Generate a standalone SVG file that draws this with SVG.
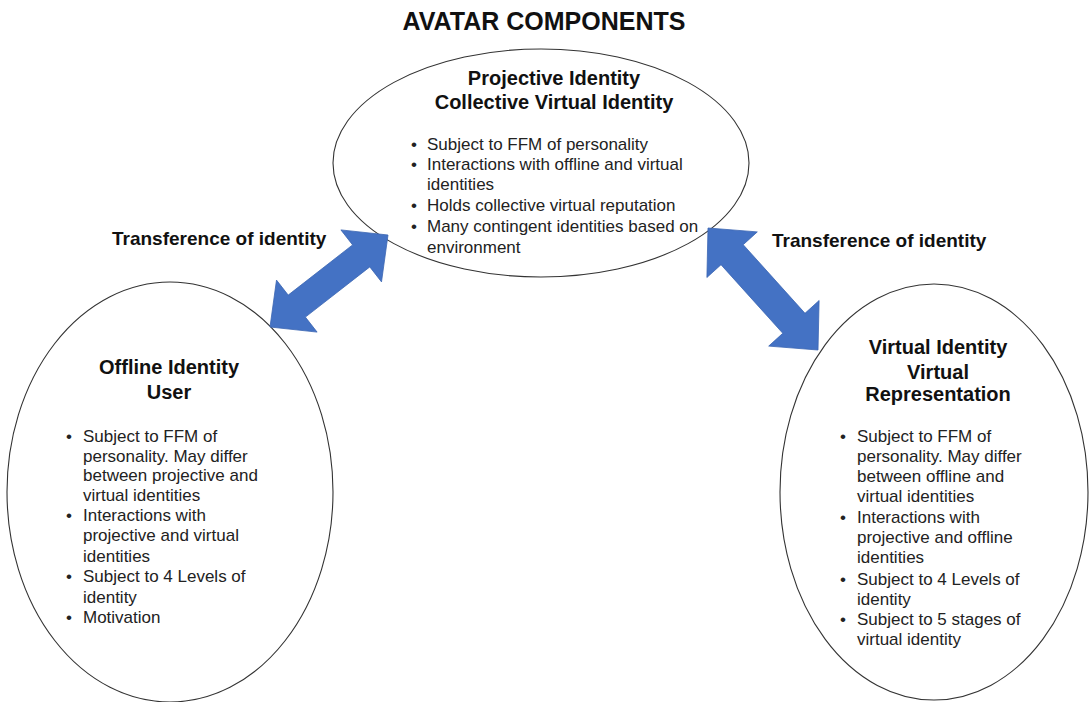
<svg xmlns="http://www.w3.org/2000/svg" width="1089" height="702" viewBox="0 0 1089 702">
  <style>
    .title { font-family: "Liberation Sans", Arial, sans-serif; font-weight: bold; font-size: 25px; fill: #111; text-anchor: middle; }
    .head { font-family: "Liberation Sans", Arial, sans-serif; font-weight: bold; font-size: 20px; fill: #111; text-anchor: middle; }
    .label { font-family: "Liberation Sans", Arial, sans-serif; font-weight: bold; font-size: 19px; fill: #111; }
    .body { font-family: "Liberation Sans", Arial, sans-serif; font-size: 17px; fill: #222; }
    .oval { fill: #fff; stroke: #333; stroke-width: 1.1; }
    .arrow { fill: #4472C4; stroke: #3b66b3; stroke-width: 0.8; }
  </style>
  <rect width="1089" height="702" fill="#fff"/>

  <text class="title" x="544" y="30">AVATAR COMPONENTS</text>

  <!-- Projective identity (top) -->
  <g id="projective">
    <ellipse class="oval" cx="541" cy="163" rx="208" ry="114"/>
    <text class="head" x="554" y="85">Projective Identity</text>
    <text class="head" x="554" y="109">Collective Virtual Identity</text>
    <g class="body">
      <text x="411" y="150">•</text><text x="427" y="150">Subject to FFM of personality</text>
      <text x="411" y="170">•</text><text x="427" y="170">Interactions with offline and virtual</text>
      <text x="427" y="190">identities</text>
      <text x="411" y="211">•</text><text x="427" y="211">Holds collective virtual reputation</text>
      <text x="411" y="232">•</text><text x="427" y="232">Many contingent identities based on</text>
      <text x="427" y="253">environment</text>
    </g>
  </g>

  <!-- Offline identity (left) -->
  <g id="offline">
    <ellipse class="oval" cx="170" cy="492" rx="163" ry="210"/>
    <text class="head" x="169" y="374">Offline Identity</text>
    <text class="head" x="169" y="399">User</text>
    <g class="body">
      <text x="66" y="442">•</text><text x="83" y="442">Subject to FFM of</text>
      <text x="83" y="462">personality. May differ</text>
      <text x="83" y="481">between projective and</text>
      <text x="83" y="501">virtual identities</text>
      <text x="66" y="521">•</text><text x="83" y="521">Interactions with</text>
      <text x="83" y="541">projective and virtual</text>
      <text x="83" y="562">identities</text>
      <text x="66" y="582">•</text><text x="83" y="582">Subject to 4 Levels of</text>
      <text x="83" y="603">identity</text>
      <text x="66" y="623">•</text><text x="83" y="623">Motivation</text>
    </g>
  </g>

  <!-- Virtual identity (right) -->
  <g id="virtual">
    <ellipse class="oval" cx="934" cy="492" rx="154" ry="208"/>
    <text class="head" x="938" y="354">Virtual Identity</text>
    <text class="head" x="938" y="379">Virtual</text>
    <text class="head" x="938" y="401">Representation</text>
    <g class="body">
      <text x="840" y="442">•</text><text x="857" y="442">Subject to FFM of</text>
      <text x="857" y="462">personality. May differ</text>
      <text x="857" y="482">between offline and</text>
      <text x="857" y="502">virtual identities</text>
      <text x="840" y="523">•</text><text x="857" y="523">Interactions with</text>
      <text x="857" y="543">projective and offline</text>
      <text x="857" y="563">identities</text>
      <text x="840" y="585">•</text><text x="857" y="585">Subject to 4 Levels of</text>
      <text x="857" y="605">identity</text>
      <text x="840" y="625">•</text><text x="857" y="625">Subject to 5 stages of</text>
      <text x="857" y="645">virtual identity</text>
    </g>
  </g>

  <!-- Double-headed transfer arrows -->
  <g id="connectors">
    <polygon class="arrow" points="388,235 381.5,281.9 369.8,266.9 305.4,317.1 317.1,332.1 270,327 276.5,280.1 288.2,295.1 352.6,244.9 340.9,229.9"/>
    <polygon class="arrow" points="708,228 757.3,231.9 743.2,244.7 805.0,313.3 819.1,300.5 818,350 768.7,346.1 782.8,333.3 721.0,264.7 706.9,277.5"/>
    <text class="label" x="112" y="245">Transference of identity</text>
    <text class="label" x="772" y="247">Transference of identity</text>
  </g>
</svg>
